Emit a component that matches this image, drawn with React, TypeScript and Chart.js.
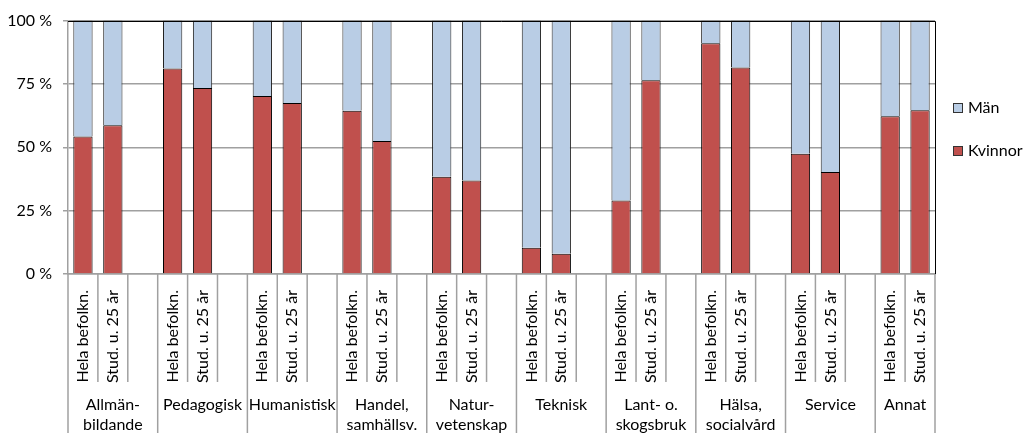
import React, { useEffect, useRef } from "react";
import { Chart, registerables } from "chart.js";

Chart.register(...registerables);

const groupLabels: string[][] = [
  ["Allmän-", "bildande"],
  ["Pedagogisk"],
  ["Humanistisk"],
  ["Handel,", "samhällsv."],
  ["Natur-", "vetenskap"],
  ["Teknisk"],
  ["Lant- o.", "skogsbruk"],
  ["Hälsa,", "socialvård"],
  ["Service"],
  ["Annat"],
];
const subLabels = ["Hela befolkn.", "Stud. u. 25 år"];

const kvinnorHela = [54.3, 81.1, 70.2, 64.4, 38.4, 10.4, 29.0, 91.1, 47.5, 62.3];
const kvinnorStud = [58.7, 73.4, 67.5, 52.5, 36.9, 8.0, 76.5, 81.5, 40.3, 64.6];
const manHela = [45.7, 18.9, 29.8, 35.6, 61.6, 89.6, 71.0, 8.9, 52.5, 37.7];
const manStud = [41.3, 26.6, 32.5, 47.5, 63.1, 92.0, 23.5, 18.5, 59.7, 35.4];

const yTicks = [0, 25, 50, 75, 100];

const RED = "#C0504D";
const BLUE = "#B9CDE5";
const FONT = "Lato";
const FS = 16;

function slots(a: number[], b: number[]): (number | null)[] {
  const out: (number | null)[] = [];
  a.forEach((v, i) => {
    out.push(v, b[i]);
    if (i < a.length - 1) out.push(null);
  });
  return out;
}
const xLabels: string[] = [];
groupLabels.forEach((_, i) => {
  xLabels.push(subLabels[0], subLabels[1]);
  if (i < groupLabels.length - 1) xLabels.push("");
});

const decorPlugin = {
  id: "decor",
  afterDraw(chart: any) {
    const ctx = chart.ctx;
    const xs = chart.scales.x;
    const area = chart.chartArea;
    const half = (xs.getPixelForValue(1) - xs.getPixelForValue(0)) / 2;
    const n = xLabels.length;
    const H = chart.height;
    ctx.save();
    // vertical separators
    ctx.strokeStyle = "#A0A0A0";
    ctx.lineWidth = 1.5;
    for (let i = 0; i <= n; i++) {
      const x = i < n ? xs.getPixelForValue(i) - half : xs.getPixelForValue(n - 1) + half;
      const isGroup = i % 3 === 0 || i === n;
      ctx.beginPath();
      ctx.moveTo(x, area.bottom);
      ctx.lineTo(x, isGroup ? H : area.bottom + 108);
      ctx.stroke();
    }
    // plot border top/right
    ctx.strokeStyle = "#000";
    ctx.lineWidth = 1;
    ctx.beginPath();
    ctx.moveTo(area.left, Math.round(area.top) + 0.5);
    ctx.lineTo(Math.round(area.right) + 0.5, Math.round(area.top) + 0.5);
    ctx.lineTo(Math.round(area.right) + 0.5, area.bottom);
    ctx.stroke();
    // group labels
    ctx.fillStyle = "#000";
    ctx.font = `${FS}px ${FONT}`;
    ctx.textAlign = "center";
    ctx.textBaseline = "middle";
    groupLabels.forEach((lines, g) => {
      const first = g * 3;
      const last = g * 3 + 1;
      const cx = g < groupLabels.length - 1
        ? xs.getPixelForValue(first + 1)
        : (xs.getPixelForValue(first) + xs.getPixelForValue(last)) / 2;
      lines.forEach((t, k) => {
        ctx.fillText(t, cx, area.bottom + 131 + k * 20);
      });
    });
    // legend
    const items = [chart.data.datasets[1], chart.data.datasets[0]];
    const lx = area.right + 18;
    items.forEach((ds: any, k: number) => {
      const cy = 108 + k * 43;
      ctx.fillStyle = ds.backgroundColor;
      ctx.fillRect(lx, cy - 5, 10, 10);
      ctx.strokeStyle = "#333";
      ctx.lineWidth = 1;
      ctx.strokeRect(lx + 0.5, cy - 4.5, 9, 9);
      ctx.fillStyle = "#000";
      ctx.textAlign = "left";
      ctx.fillText(ds.label, lx + 15, cy);
    });
    ctx.restore();
  },
};

export default function App() {
  const ref = useRef<HTMLCanvasElement>(null);
  useEffect(() => {
    if (!ref.current) return;
    const chart = new Chart(ref.current, {
      type: "bar",
      data: {
        labels: xLabels,
        datasets: [
          {
            label: "Kvinnor",
            data: slots(kvinnorHela, kvinnorStud),
            backgroundColor: RED,
            borderColor: "#000",
            borderWidth: 1,
            barPercentage: 0.645,
            categoryPercentage: 1,
          },
          {
            label: "Män",
            data: slots(manHela, manStud),
            backgroundColor: BLUE,
            borderColor: "#222",
            borderWidth: 1,
            barPercentage: 0.645,
            categoryPercentage: 1,
          },
        ],
      },
      options: {
        responsive: false,
        animation: false,
        layout: { padding: { top: 19, right: 88, left: 0, bottom: 0 } },
        plugins: { legend: { display: false }, tooltip: { enabled: false } },
        scales: {
          x: {
            stacked: true,
            grid: { display: false },
            border: { display: true, color: "#A0A0A0", width: 1.5 },
            ticks: {
              autoSkip: false,
              minRotation: 90,
              maxRotation: 90,
              padding: 8,
              color: "#000",
              font: { family: FONT, size: FS },
            },
            afterFit: (s: any) => {
              s.height = 159;
            },
          },
          y: {
            stacked: true,
            min: 0,
            max: 100,
            afterBuildTicks: (s: any) => {
              s.ticks = yTicks.map((v) => ({ value: v }));
            },
            grid: {
              color: "#A0A0A0",
              lineWidth: 1.5,
              tickLength: 5,
            },
            border: { display: true, color: "#A0A0A0", width: 1.5 },
            ticks: {
              padding: 11,
              color: "#000",
              font: { family: FONT, size: FS },
              callback: (v: any) => `${v} %`,
            },
            afterFit: (s: any) => {
              s.width = 68;
            },
          },
        },
      },
      plugins: [decorPlugin],
    });
    return () => chart.destroy();
  }, []);
  return (
    <div style={{ position: "absolute", left: 0, top: 0, width: 1023, height: 433, overflow: "hidden" }}>
      <canvas ref={ref} width={1023} height={433} />
    </div>
  );
}
